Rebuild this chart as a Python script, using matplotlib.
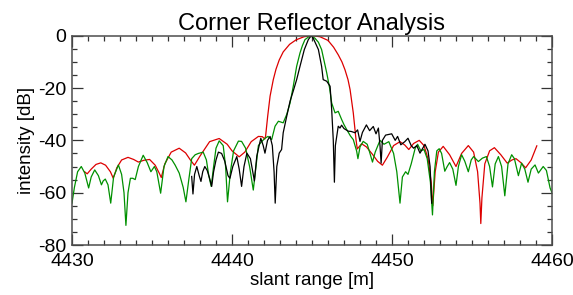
import matplotlib
matplotlib.use('Agg')
import matplotlib.pyplot as plt
from matplotlib.ticker import MultipleLocator

# values (slant range [m], intensity [dB])
red_x = [4430.79, 4430.95, 4431.2, 4431.5, 4431.8, 4432.1, 4432.4, 4432.58, 4432.8, 4433.1,
         4433.5, 4433.85, 4434.15, 4434.5, 4434.85, 4435.2, 4435.45, 4435.58, 4435.8, 4436.2,
         4436.7, 4437.1, 4437.4, 4437.65, 4438.0, 4438.6, 4439.2, 4439.7, 4440.0, 4440.45,
         4440.8, 4441.2, 4441.65, 4441.9, 4442.05, 4442.1, 4442.23, 4442.38, 4442.58, 4442.75,
         4442.95, 4443.2, 4443.6, 4444.0, 4444.5, 4445.0, 4445.5, 4446.0, 4446.35, 4446.64,
         4446.87, 4447.06, 4447.25, 4447.38, 4447.58,
         4447.75, 4447.83, 4448.1, 4448.4, 4448.8, 4449.1, 4449.4, 4449.7, 4450.1,
         4450.5, 4450.8, 4451.05, 4451.35, 4451.7, 4452.0, 4452.25, 4452.45, 4452.55, 4452.7,
         4452.9, 4453.2, 4453.6, 4454.0, 4454.35, 4454.77, 4455.1, 4455.35, 4455.5, 4455.55,
         4455.62, 4455.8, 4456.1, 4456.4, 4456.8, 4457.2, 4457.5, 4457.75, 4458.05, 4458.35,
         4458.7, 4459.05]
red_db = [-52.0, -52.8, -51.0, -49.2, -48.6, -49.5, -52.0, -54.5, -50.5, -47.5,
          -46.5, -47.3, -48.3, -47.6, -47.3, -49.5, -52.5, -54.2, -49.0, -44.5,
          -43.0, -44.8, -47.5, -49.5, -46.0, -40.5, -39.3, -41.5, -44.0, -46.3,
          -44.5, -40.5, -38.5, -38.6, -39.5, -38.4, -30.8, -23.1, -16.8, -12.8,
          -9.3, -6.2, -3.3, -1.6, -0.4, 0.0, -0.4, -1.8, -4.4, -7.3,
          -10.0, -13.0, -16.8, -20.6, -29.5,
          -39.7, -43.3, -41.3, -42.5, -45.5, -48.0, -49.5, -46.5, -42.0,
          -40.5, -41.8, -43.5, -41.2, -40.0, -42.0, -47.0, -56.0, -65.0, -52.0,
          -44.5, -42.3, -45.5, -50.0, -45.0, -42.0, -44.5, -52.0, -64.0, -71.8,
          -62.0, -49.0, -44.0, -42.8, -45.5, -48.7, -47.5, -47.0, -48.5, -50.5,
          -47.5, -42.1]

green_x = [4430.0, 4430.15, 4430.35, 4430.58, 4430.8, 4431.04, 4431.2, 4431.42, 4431.65, 4431.84,
           4431.95, 4432.08, 4432.25, 4432.42, 4432.6, 4432.9, 4433.1, 4433.25, 4433.37, 4433.5,
           4433.65, 4433.8, 4433.95, 4434.15, 4434.45, 4434.7, 4434.93, 4435.15, 4435.3, 4435.54,
           4435.75, 4436.0, 4436.25, 4436.45, 4436.7, 4436.95, 4437.12, 4437.3, 4437.48, 4437.7,
           4437.9, 4438.2, 4438.4, 4438.55, 4438.7, 4438.85, 4439.0, 4439.2, 4439.45, 4439.6,
           4439.72, 4439.9, 4440.1, 4440.4, 4440.6, 4440.85, 4441.1, 4441.33, 4441.5, 4441.65,
           4441.85, 4442.06, 4442.25, 4442.48, 4442.69, 4442.9, 4443.05, 4443.2, 4443.42, 4443.63,
           4443.83, 4444.04, 4444.25, 4444.4, 4444.56, 4444.8, 4444.97, 4445.19, 4445.4, 4445.6,
           4445.92, 4446.1, 4446.23, 4446.44, 4446.64, 4446.85, 4447.0, 4447.17, 4447.4,
           4447.58, 4447.79, 4447.87, 4448.0, 4448.2, 4448.45, 4448.6, 4448.78, 4448.95, 4449.25,
           4449.5, 4449.8, 4450.1, 4450.3, 4450.5, 4450.65, 4450.85, 4451.0, 4451.2, 4451.45,
           4451.6, 4451.8, 4452.0, 4452.2, 4452.4, 4452.53, 4452.65, 4452.8, 4452.95, 4453.1,
           4453.3, 4453.45, 4453.6, 4453.8, 4454.0, 4454.15, 4454.35, 4454.55, 4454.77, 4454.95,
           4455.1, 4455.4, 4455.65, 4455.9, 4456.1, 4456.28, 4456.45, 4456.65, 4456.85, 4457.05,
           4457.25, 4457.48, 4457.65, 4457.9, 4458.1, 4458.3, 4458.5, 4458.7, 4458.94, 4459.15,
           4459.45, 4459.65, 4459.88, 4460.0]
green_db = [-64.0, -58.0, -52.0, -50.0, -52.5, -58.2, -54.0, -51.3, -53.5, -57.0,
            -55.5, -54.8, -57.0, -64.0, -54.0, -49.4, -53.0, -60.0, -72.5, -60.0,
            -54.5, -54.5, -55.0, -50.0, -45.7, -48.5, -52.0, -50.0, -52.0, -60.2,
            -50.0, -46.2, -47.5, -49.5, -52.5, -58.0, -63.5, -55.0, -47.0, -45.5,
            -45.0, -44.5, -47.5, -53.5, -57.6, -50.0, -43.0, -40.2, -42.0, -50.0,
            -63.5, -52.0, -44.0, -40.3, -40.4, -43.0, -50.0, -59.0, -50.0, -42.0,
            -40.5, -39.2, -38.5, -39.7, -34.6, -32.7, -33.0, -33.3, -30.1, -25.7,
            -19.3, -11.7, -6.6, -3.8, -1.5, -0.4, 0.0, -1.0, -2.5, -5.3,
            -14.2, -20.0, -25.7, -29.5, -28.9, -32.0, -34.0, -35.9, -38.3,
            -39.7, -44.1, -47.0, -42.5, -40.4, -41.5, -44.5, -48.3, -44.5, -40.0,
            -41.5, -40.5, -45.0, -52.0, -64.0, -54.0, -52.0, -53.0, -49.0, -43.0,
            -41.5, -44.0, -43.5, -47.0, -56.0, -68.5, -52.0, -44.0, -43.2, -45.0,
            -51.8, -50.0, -48.5, -51.0, -57.2, -50.0, -45.5, -48.0, -52.0, -47.5,
            -46.2, -48.1, -46.8, -46.2, -50.0, -57.8, -49.0, -46.2, -50.0, -61.2,
            -49.0, -45.5, -47.0, -53.5, -48.7, -51.0, -56.0, -51.0, -49.4, -52.5,
            -50.0, -51.5, -58.2, -60.0]

black_x = [4437.48, 4437.56, 4437.66, 4437.8, 4437.95, 4438.06, 4438.17, 4438.3, 4438.45, 4438.6,
           4438.73, 4438.85, 4439.0, 4439.15, 4439.35, 4439.55, 4439.75, 4439.87, 4440.05, 4440.3,
           4440.45, 4440.6, 4440.75, 4440.93, 4441.15, 4441.4, 4441.55, 4441.8, 4441.95, 4442.06,
           4442.22, 4442.38, 4442.52, 4442.63, 4442.7, 4442.8, 4442.95, 4443.1, 4443.2, 4443.42,
           4443.63, 4443.83, 4444.04, 4444.25, 4444.52, 4444.77, 4444.95, 4445.08, 4445.4, 4445.6,
           4445.7, 4445.92, 4446.13, 4446.23, 4446.33, 4446.4, 4446.46, 4446.64, 4446.75, 4446.85,
           4447.0, 4447.27, 4447.45, 4447.69, 4447.85, 4448.0, 4448.15, 4448.4, 4448.6, 4448.83,
           4449.0, 4449.15, 4449.25, 4449.32, 4449.4, 4449.6, 4449.98, 4450.2, 4450.35, 4450.55,
           4450.8, 4451.0, 4451.2, 4451.35, 4451.55, 4451.75, 4452.06, 4452.25, 4452.38, 4452.48]
black_db = [-53.8, -60.5, -53.0, -50.0, -53.5, -55.7, -52.0, -50.0, -51.5, -54.5,
            -57.6, -52.0, -47.5, -44.5, -45.0, -48.0, -53.5, -54.5, -50.0, -46.2,
            -51.0, -57.6, -50.0, -44.9, -47.0, -55.5, -46.0, -39.2, -42.0, -44.9,
            -40.0, -38.5, -42.0, -52.0, -64.0, -50.0, -44.9, -43.5, -37.1, -30.8,
            -25.0, -21.1, -16.8, -11.7, -5.3, -1.5, 0.0, -1.0, -5.3, -11.7,
            -16.8, -17.4, -19.3, -28.2, -40.0, -56.0, -42.0, -34.6, -35.3, -34.2,
            -35.5, -36.5, -36.6, -37.1, -36.0, -40.4, -37.0, -34.1, -36.3, -34.7,
            -37.5, -35.3, -42.0, -48.7, -40.0, -38.0, -37.5, -40.0, -38.5, -41.7,
            -40.5, -39.2, -42.0, -43.0, -42.0, -44.9, -41.5, -44.0, -50.0, -64.0]

x_ticks = [4430, 4440, 4450, 4460]
y_ticks = [-80, -60, -40, -20, 0]

plt.rcParams['font.family'] = ['Liberation Sans', 'DejaVu Sans']
plt.rcParams['axes.unicode_minus'] = False

fig = plt.figure(figsize=(5.73, 2.95), dpi=100)
ax = fig.add_axes([72/573, 1-245/295, 480/573, (245-35.7)/295])

ax.plot(red_x, red_db, color='#dd0000', lw=0.9)
ax.plot(green_x, green_db, color='#009000', lw=0.9)
ax.plot(black_x, black_db, color='black', lw=0.9)

ax.set_xlim(4430, 4460)
ax.set_ylim(-80, 0)
ax.set_xticks(x_ticks)
ax.set_yticks(y_ticks)
ax.xaxis.set_minor_locator(MultipleLocator(1))
ax.yaxis.set_minor_locator(MultipleLocator(5))
ax.tick_params(which='both', direction='in', top=True, right=True, color='0.2', width=0.9)
ax.tick_params(which='major', length=8, labelsize=14)
ax.tick_params(axis='x', which='major', pad=6)
ax.tick_params(axis='y', which='major', pad=4)
ax.tick_params(which='minor', length=3.5)
for sp in ax.spines.values():
    sp.set_color('0.3')
    sp.set_linewidth(1.1)

ax.set_title('Corner Reflector Analysis', fontsize=17, pad=4)
ax.set_xlabel('slant range [m]', fontsize=13.5, labelpad=1)
ax.set_ylabel('intensity [dB]', fontsize=13.5, labelpad=2)

plt.savefig('out.png', dpi=100)
